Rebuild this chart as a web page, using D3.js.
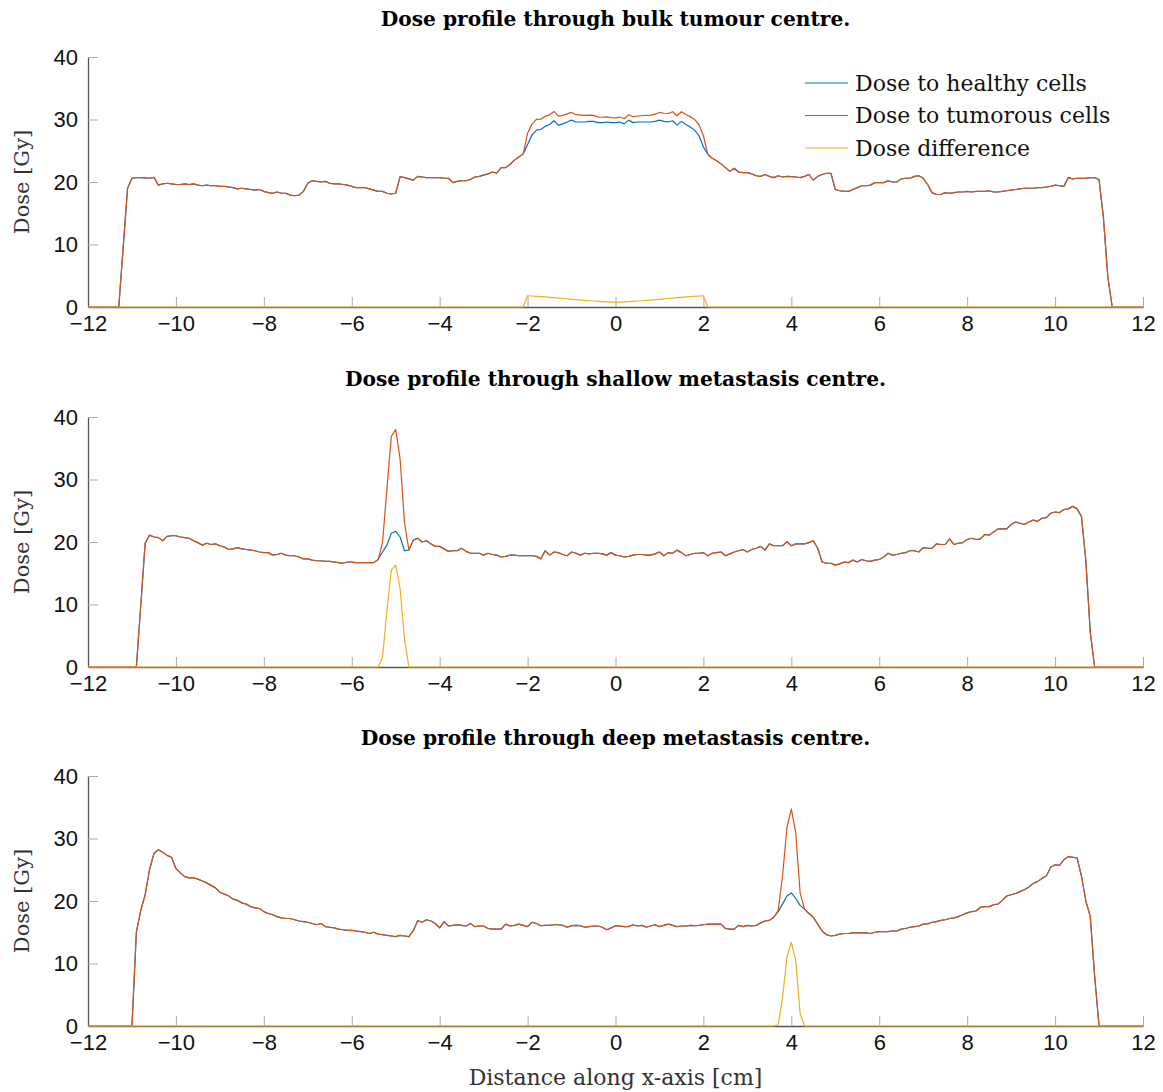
<!DOCTYPE html>
<html>
<head>
<meta charset="utf-8">
<script src="https://cdn.jsdelivr.net/npm/d3@7"></script>
<style>
  body { margin: 0; background: #fff; }
  svg { font-family: "DejaVu Serif", serif; }
</style>
</head>
<body>
<svg width="1163" height="1092"></svg>
<script>
// sample grid: -12 cm to 12 cm, every 0.1 cm
const xStart = -12;
const xStep = 0.1;

const titles = [
  'Dose profile through bulk tumour centre.',
  'Dose profile through shallow metastasis centre.',
  'Dose profile through deep metastasis centre.'
];
const seriesNames = ['Dose to healthy cells', 'Dose to tumorous cells', 'Dose difference'];
const xTickValues = [-12, -10, -8, -6, -4, -2, 0, 2, 4, 6, 8, 10, 12];
const yTickValues = [0, 10, 20, 30, 40];

// dose to healthy cells [Gy]
const bulkHealthy = [
  0, 0, 0, 0, 0, 0, 0, 0, 9.5, 19.0,
  20.6, 20.7, 20.7, 20.65, 20.6, 20.75, 19.5, 19.7, 19.8, 19.7,
  19.6, 19.6, 19.7, 19.6, 19.7, 19.5, 19.4, 19.5, 19.4, 19.4,
  19.3, 19.3, 19.2, 19.1, 18.9, 19.0, 18.9, 18.8, 18.7, 18.8,
  18.5, 18.3, 18.2, 18.4, 18.2, 18.2, 17.9, 17.8, 17.9, 18.5,
  19.8, 20.2, 20.1, 20.0, 20.1, 19.8, 19.7, 19.7, 19.6, 19.5,
  19.3, 19.1, 19.1, 19.1, 18.9, 18.7, 18.5, 18.5, 18.2, 18.1,
  18.2, 20.85, 20.7, 20.5, 20.3, 20.9, 20.8, 20.7, 20.7, 20.7,
  20.7, 20.6, 20.6, 19.9, 20.1, 20.2, 20.2, 20.4, 20.8, 20.9,
  21.1, 21.3, 21.6, 21.4, 22.3, 22.3, 22.8, 23.5, 24.0, 24.5,
  26.0, 27.5, 28.3, 28.4, 28.9, 29.2, 29.8, 29.1, 29.3, 29.6,
  29.9, 29.6, 29.6, 29.6, 29.7, 29.7, 29.5, 29.5, 29.6, 29.5,
  29.5, 29.6, 29.3, 29.9, 29.5, 29.6, 29.6, 29.6, 29.6, 29.7,
  29.9, 29.7, 29.6, 29.8, 29.1, 29.7, 29.2, 28.8, 28.3, 27.4,
  25.6, 24.4, 23.8, 23.4, 22.9, 22.3, 21.7, 22.2, 21.6, 21.5,
  21.5, 21.3, 21.0, 20.9, 21.2, 20.9, 20.7, 21.0, 20.8, 20.9,
  20.85, 20.8, 20.7, 20.9, 21.2, 20.3, 20.9, 21.2, 21.4, 21.4,
  18.8, 18.6, 18.5, 18.5, 18.8, 19.1, 19.4, 19.4, 19.5, 19.9,
  19.9, 19.9, 20.2, 20.0, 20.0, 20.5, 20.6, 20.6, 20.9, 21.0,
  20.6, 19.6, 18.3, 18.0, 18.0, 18.3, 18.2, 18.3, 18.4, 18.4,
  18.5, 18.4, 18.5, 18.5, 18.5, 18.6, 18.4, 18.4, 18.5, 18.6,
  18.7, 18.8, 18.9, 19.0, 19.0, 19.0, 19.1, 19.1, 19.2, 19.3,
  19.5, 19.4, 19.3, 20.7, 20.5, 20.6, 20.6, 20.6, 20.7, 20.7,
  20.4, 14.3, 4.8, 0, 0, 0, 0, 0, 0, 0,
  0
];
const shallowHealthy = [
  0, 0, 0, 0, 0, 0, 0, 0, 0, 0,
  0, 0, 9.8, 19.8, 21.1, 20.8, 20.7, 20.2, 20.9, 21.0,
  21.0, 20.8, 20.7, 20.6, 20.2, 19.9, 19.5, 19.8, 19.6, 19.7,
  19.4, 19.2, 18.8, 18.9, 19.1, 18.9, 18.8, 18.7, 18.6, 18.4,
  18.3, 18.3, 17.9, 18.0, 18.2, 17.9, 17.8, 17.8, 17.6, 17.3,
  17.3, 17.1, 17.0, 17.0, 16.9, 16.9, 16.8, 16.7, 16.6, 16.8,
  16.8, 16.7, 16.7, 16.7, 16.7, 16.7, 17.2, 18.4, 19.5, 21.4,
  21.7, 20.8, 18.6, 18.7, 20.3, 20.6, 20.0, 20.2, 19.7, 19.3,
  19.3, 18.9, 18.5, 18.6, 18.6, 19.0, 18.5, 18.2, 18.2, 18.2,
  17.9, 18.2, 18.0, 17.9, 17.6, 17.7, 17.9, 17.9, 17.8, 17.8,
  17.8, 17.8, 17.7, 17.3, 18.6, 17.9, 18.4, 18.3, 18.0, 17.8,
  18.4, 18.2, 17.9, 18.2, 18.1, 18.2, 18.2, 18.1, 17.9, 18.3,
  17.9, 17.8, 17.6, 17.7, 17.9, 18.0, 18.0, 17.9, 17.9, 18.1,
  18.4, 17.8, 18.3, 18.2, 18.7, 18.3, 17.8, 18.0, 18.2, 18.2,
  18.3, 17.8, 18.2, 18.3, 18.4, 17.8, 18.1, 18.4, 18.6, 18.8,
  18.4, 18.8, 19.0, 19.3, 18.7, 19.7, 19.4, 19.4, 19.4, 20.05,
  19.4, 19.7, 19.7, 19.7, 19.9, 20.2, 19.0, 16.8, 16.6, 16.6,
  16.3, 16.5, 16.8, 16.7, 17.1, 16.8, 17.2, 17.0, 16.9, 17.1,
  17.2, 17.6, 18.2, 17.9, 18.0, 18.2, 18.3, 18.6, 18.6, 18.4,
  19.1, 19.0, 19.0, 19.7, 19.6, 19.6, 20.5, 19.6, 19.8, 19.9,
  20.4, 20.6, 20.4, 20.5, 21.2, 21.1, 21.6, 22.1, 22.1, 22.1,
  22.8, 23.2, 23.0, 22.8, 23.2, 23.5, 23.3, 23.8, 23.9, 24.6,
  24.8, 24.7, 25.2, 25.3, 25.7, 25.3, 24.1, 17.0, 5.6, 0,
  0, 0, 0, 0, 0, 0, 0, 0, 0, 0,
  0
];
const deepHealthy = [
  0, 0, 0, 0, 0, 0, 0, 0, 0, 0,
  0, 15.0, 18.5, 21.0, 25.0, 27.6, 28.2, 27.8, 27.3, 27.0,
  25.2, 24.5, 23.9, 23.7, 23.7, 23.5, 23.2, 22.9, 22.5, 22.1,
  21.4, 21.1, 20.8, 20.3, 20.1, 19.7, 19.5, 19.1, 18.9, 18.8,
  18.3, 18.0, 17.8, 17.5, 17.3, 17.2, 17.2, 17.0, 16.8, 16.7,
  16.6, 16.4, 16.2, 16.4, 15.9, 15.8, 15.7, 15.5, 15.4, 15.3,
  15.3, 15.2, 15.1, 15.0, 14.8, 15.0, 14.7, 14.6, 14.5, 14.4,
  14.3, 14.5, 14.4, 14.3, 15.25, 16.85, 16.6, 17.0, 16.8, 16.4,
  15.7, 16.7, 16.0, 16.1, 16.2, 16.1, 16.0, 16.4, 15.9, 16.0,
  16.0, 15.6, 15.5, 15.5, 15.5, 16.3, 16.0, 16.1, 16.3, 16.1,
  15.9, 16.6, 16.4, 16.05, 16.1, 16.1, 16.2, 16.2, 16.1, 15.8,
  16.05, 16.1, 16.05, 15.8, 15.9, 16.0, 16.0, 15.8, 15.4, 15.7,
  16.05, 16.0, 15.9, 15.9, 16.2, 16.0, 16.1, 15.8, 16.0, 16.2,
  15.9, 16.1, 16.3, 16.1, 15.9, 16.0, 16.0, 16.1, 16.05, 16.1,
  16.2, 16.3, 16.3, 16.3, 16.3, 15.6, 15.5, 15.5, 16.1, 15.9,
  16.1, 16.0, 16.1, 16.5, 16.8, 16.9, 17.4, 18.3, 19.5, 20.8,
  21.3, 20.4, 19.3, 18.7, 18.0, 17.4, 16.3, 15.2, 14.6, 14.4,
  14.5, 14.7, 14.8, 14.8, 14.9, 14.9, 14.9, 14.9, 14.8, 15.0,
  15.1, 15.1, 15.1, 15.2, 15.2, 15.5, 15.6, 15.8, 15.9, 16.0,
  16.3, 16.35, 16.6, 16.7, 16.9, 17.0, 17.2, 17.3, 17.5, 17.8,
  18.1, 18.3, 18.4, 19.0, 19.1, 19.1, 19.4, 19.5, 20.1, 20.8,
  21.0, 21.2, 21.5, 21.8, 22.2, 22.8, 23.1, 23.6, 24.0, 25.4,
  25.8, 25.7, 26.6, 27.1, 27.0, 26.9, 24.0, 20.0, 17.5, 8.0,
  0, 0, 0, 0, 0, 0, 0, 0, 0, 0,
  0
];

// dose difference (tumorous - healthy) inside the tumour, zero elsewhere
const bulkDiffStart = -2.0;
const bulkDiff = [
  1.8, 1.76, 1.71, 1.66, 1.61, 1.55, 1.49, 1.43, 1.36, 1.3,
  1.23, 1.17, 1.11, 1.05, 1.0, 0.96, 0.91, 0.86, 0.82, 0.79,
  0.77,
  0.79, 0.82, 0.86, 0.91, 0.96, 1.0, 1.05, 1.11, 1.17, 1.23,
  1.3, 1.36, 1.43, 1.49, 1.55, 1.61, 1.66, 1.71, 1.76, 1.8
];
const shallowDiffStart = -5.3;
const shallowDiff = [1.5, 9.0, 15.5, 16.3, 12.5, 4.5];
const deepDiffStart = 3.7;
const deepDiff = [0.2, 4.5, 11.0, 13.4, 10.5, 2.0];

const svg = d3.select('svg');
const width = +svg.attr('width');

const margin = {left: 88, right: 20};
const innerWidth = width - margin.left - margin.right;
const plotHeight = 250;
const panelTops = [57, 417, 776];
const colors = ['#0072BD', '#D95319', '#EDB120'];

const xScale = d3.scaleLinear().domain([-12, 12]).range([0, innerWidth]);
const yScale = d3.scaleLinear().domain([0, 40]).range([plotHeight, 0]);

const panels = [
  {healthy: bulkHealthy, diffStart: bulkDiffStart, diff: bulkDiff},
  {healthy: shallowHealthy, diffStart: shallowDiffStart, diff: shallowDiff},
  {healthy: deepHealthy, diffStart: deepDiffStart, diff: deepDiff}
];

const line = d3.line()
  .x((d, i) => xScale(xStart + i * xStep))
  .y(d => yScale(d));

panels.forEach((p, k) => {
  const top = panelTops[k];
  const g = svg.append('g').attr('transform', `translate(${margin.left},${top})`);

  // spread the difference over the full grid, then tumorous = healthy + difference
  const diffFull = p.healthy.map(() => 0);
  const offset = Math.round((p.diffStart - xStart) / xStep);
  p.diff.forEach((v, j) => { diffFull[offset + j] = v; });
  const tumorous = p.healthy.map((h, i) => h + diffFull[i]);

  const xAxis = g.append('g')
    .attr('transform', `translate(0,${plotHeight})`)
    .call(d3.axisBottom(xScale).tickValues(xTickValues).tickSize(-10).tickSizeOuter(0).tickPadding(8));
  const yAxis = g.append('g')
    .call(d3.axisLeft(yScale).tickValues(yTickValues).tickSize(-10).tickSizeOuter(0).tickPadding(10));

  [xAxis, yAxis].forEach(a => {
    a.select('.domain').attr('stroke', '#555').attr('stroke-width', 1.3);
    a.selectAll('.tick line').attr('stroke', '#aaa').attr('stroke-width', 1);
    a.selectAll('.tick text').attr('fill', '#111').style('font-size', '22px');
  });

  [p.healthy, tumorous, diffFull].forEach((s, j) => {
    g.append('path')
      .datum(s)
      .attr('fill', 'none')
      .attr('stroke', colors[j])
      .attr('stroke-width', 1.2)
      .attr('stroke-linejoin', 'round')
      .attr('d', line);
  });

  svg.append('text')
    .attr('x', margin.left + innerWidth / 2)
    .attr('y', top - 38)
    .attr('text-anchor', 'middle')
    .attr('dominant-baseline', 'central')
    .style('font-size', '20.2px')
    .style('font-weight', 'bold')
    .text(titles[k]);

  svg.append('text')
    .attr('transform', `translate(22,${top + plotHeight / 2}) rotate(-90)`)
    .attr('text-anchor', 'middle')
    .attr('dominant-baseline', 'central')
    .attr('fill', '#333')
    .style('font-size', '21px')
    .text('Dose [Gy]');

  if (k === 0) {
    const legend = g.append('g').attr('transform', 'translate(717,26)');
    seriesNames.forEach((name, j) => {
      const row = legend.append('g').attr('transform', `translate(0,${j * 32.5})`);
      row.append('line')
        .attr('x1', 0).attr('x2', 43)
        .attr('stroke', colors[j]).attr('stroke-width', 1.2);
      row.append('text')
        .attr('x', 50)
        .attr('dominant-baseline', 'central')
        .attr('fill', '#111')
        .style('font-size', '22px')
        .text(name);
    });
  }
});

svg.append('text')
  .attr('x', margin.left + innerWidth / 2)
  .attr('y', 1077)
  .attr('text-anchor', 'middle')
  .attr('dominant-baseline', 'central')
  .attr('fill', '#333')
  .style('font-size', '22px')
  .text('Distance along x-axis [cm]');
</script>
</body>
</html>
